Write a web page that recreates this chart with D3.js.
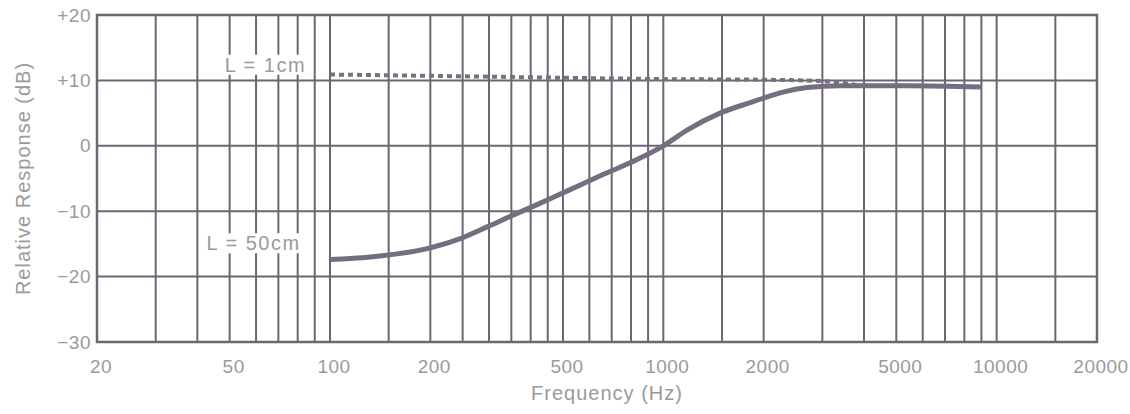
<!DOCTYPE html>
<html lang="en">
<head>
    <meta charset="UTF-8">
    <title>Relative Response vs Frequency</title>
    <script src="https://d3js.org/d3.v7.min.js"></script>
    <style>
        body {
            margin: 0;
            background: #fff;
            font-family: "Liberation Sans", Arial, sans-serif;
        }
    </style>
</head>
<body>
    <div id="chart"></div>

    <script>
        // vertical grid lines, as drawn on the original (Hz)
        const gridFreqs = [30, 40, 50, 60, 70, 80, 90, 100, 150, 200, 250, 300, 350, 400, 450, 500,
                           600, 700, 800, 900, 1000, 1500, 2000, 3000, 4000, 5000, 6000, 7000, 8000,
                           9000, 10000, 15000];
        const freqTicks = [20, 50, 100, 200, 500, 1000, 2000, 5000, 10000, 20000];
        const dbTicks = [20, 10, 0, -10, -20, -30];
        const dbLabels = ["+20", "+10", "0", "\u221210", "\u221220", "\u221230"];

        // L = 50cm (solid)
        const farFreq = [100, 132, 200, 240, 296, 354, 418, 500, 659, 834, 1000, 1178, 1479, 1820, 2000, 2286, 2698, 3389, 5383, 9000];
        const farDb   = [-17.4, -17.0, -15.6, -14.4, -12.4, -10.6, -9.0, -7.2, -4.4, -2.1, 0, 2.4, 5.0, 6.6, 7.3, 8.2, 8.9, 9.2, 9.2, 9.0];

        // L = 1cm (dashed)
        const nearFreq = [100, 200, 500, 1000, 2000, 3000, 3800];
        const nearDb   = [10.9, 10.7, 10.4, 10.2, 10.1, 9.9, 9.3];

        const width = 1130, height = 414;
        const margin = {top: 15, right: 33, bottom: 72, left: 97};

        const svg = d3.select("#chart")
            .append("svg")
            .attr("width", width)
            .attr("height", height);

        const x = d3.scaleLog().domain([20, 20000]).range([margin.left, width - margin.right]);
        const y = d3.scaleLinear().domain([-30, 20]).range([height - margin.bottom, margin.top]);

        const gridColor = "#6c6672";
        const textColor = "#9a9a9a";

        // grid
        svg.append("g")
            .selectAll("line")
            .data(gridFreqs)
            .enter()
            .append("line")
            .attr("x1", d => x(d)).attr("x2", d => x(d))
            .attr("y1", y(20)).attr("y2", y(-30))
            .style("stroke", gridColor)
            .style("stroke-width", 2);

        svg.append("g")
            .selectAll("line")
            .data(dbTicks)
            .enter()
            .append("line")
            .attr("x1", x(20)).attr("x2", x(20000))
            .attr("y1", d => y(d)).attr("y2", d => y(d))
            .style("stroke", gridColor)
            .style("stroke-width", 2);

        svg.append("rect")
            .attr("x", x(20)).attr("y", y(20))
            .attr("width", x(20000) - x(20))
            .attr("height", y(-30) - y(20))
            .style("fill", "none")
            .style("stroke", gridColor)
            .style("stroke-width", 2.5);

        // curve labels with white boxes over the grid
        const labels = [
            {text: "L = 1cm", f: 64, db: 12.4},
            {text: "L = 50cm", f: 59, db: -14.9}
        ];
        labels.forEach(l => {
            const t = svg.append("text")
                .attr("x", x(l.f))
                .attr("y", y(l.db))
                .attr("text-anchor", "middle")
                .attr("dy", "0.35em")
                .style("font-size", "20px")
                .style("letter-spacing", "1.5px")
                .style("fill", textColor)
                .text(l.text);
            const b = t.node().getBBox();
            svg.insert("rect", "text")
                .attr("x", b.x - 3).attr("y", b.y + 1)
                .attr("width", b.width + 6).attr("height", b.height - 2)
                .style("fill", "#fff");
        });

        // curves
        const line = d3.line()
            .x(d => x(d[0]))
            .y(d => y(d[1]))
            .curve(d3.curveMonotoneX);

        svg.append("path")
            .datum(d3.zip(nearFreq, nearDb))
            .attr("d", line)
            .style("fill", "none")
            .style("stroke", "#77707f")
            .style("stroke-width", 4)
            .style("stroke-dasharray", "5,4");

        svg.append("path")
            .datum(d3.zip(farFreq, farDb))
            .attr("d", line)
            .style("fill", "none")
            .style("stroke", "#756d80")
            .style("stroke-width", 5)
            .style("stroke-linecap", "butt");

        // tick labels
        svg.append("g")
            .selectAll("text")
            .data(freqTicks)
            .enter()
            .append("text")
            .attr("x", d => x(d) + 4)
            .attr("y", y(-30) + 31)
            .attr("text-anchor", "middle")
            .style("font-size", "19px")
            .style("letter-spacing", "0.5px")
            .style("fill", textColor)
            .text(d => d);

        svg.append("g")
            .selectAll("text")
            .data(dbTicks)
            .enter()
            .append("text")
            .attr("x", x(20) - 6)
            .attr("y", d => y(d))
            .attr("dy", "0.35em")
            .attr("text-anchor", "end")
            .style("font-size", "19px")
            .style("letter-spacing", "0.5px")
            .style("fill", textColor)
            .text((d, i) => dbLabels[i]);

        // axis titles
        svg.append("text")
            .attr("x", (x(20) + x(20000)) / 2 + 10)
            .attr("y", height - 14)
            .attr("text-anchor", "middle")
            .style("font-size", "20px")
            .style("letter-spacing", "1px")
            .style("fill", textColor)
            .text("Frequency (Hz)");

        svg.append("text")
            .attr("transform", `translate(30, ${(y(20) + y(-30)) / 2}) rotate(-90)`)
            .attr("text-anchor", "middle")
            .style("font-size", "20px")
            .style("letter-spacing", "1px")
            .style("fill", textColor)
            .text("Relative Response (dB)");
    </script>
</body>
</html>
